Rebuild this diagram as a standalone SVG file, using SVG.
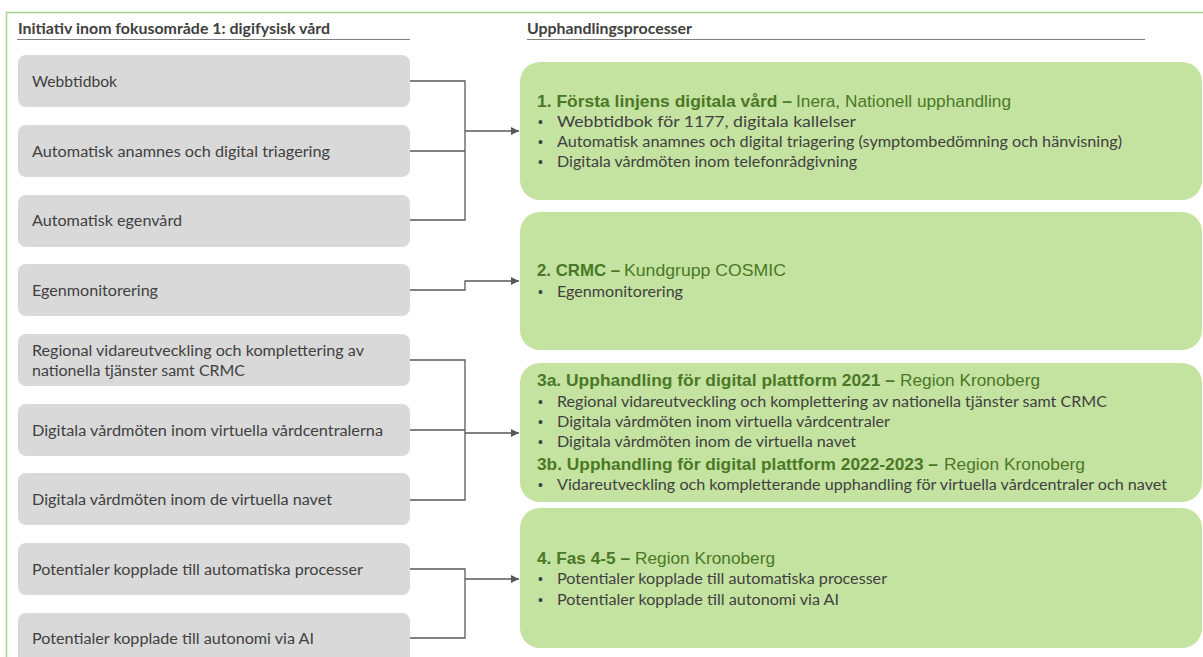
<svg xmlns="http://www.w3.org/2000/svg" width="1203" height="657" viewBox="0 0 1203 657">
<defs>
<style>
.frame{fill:none;stroke:#a9d18e;stroke-width:1.5}
.rule{stroke:#808080;stroke-width:1}
.hdr{font-family:Lato,"Open Sans",sans-serif;font-weight:bold;font-size:14.5px;fill:#404040}
.gbox{fill:#d9d9d9}
.pbox{fill:#c5e3a0}
.lt{font-family:Lato,"Open Sans",sans-serif;font-size:15.5px;fill:#404040}
.tb{font-family:"Liberation Sans",Arial,sans-serif;font-weight:bold;font-size:17px;fill:#4a7826}
.tn{font-family:"Liberation Sans",Arial,sans-serif;font-size:17px;fill:#4a7826}
.bul{font-family:"Liberation Sans",Arial,sans-serif;font-size:14px;fill:#404040}
.con{fill:none;stroke:#595959;stroke-width:1.3}
</style>
<marker id="arr" viewBox="0 0 10 10" refX="10" refY="5" markerWidth="8" markerHeight="8" markerUnits="userSpaceOnUse" orient="auto">
<path d="M0,0 L10,5 L0,10 z" fill="#595959"/>
</marker>
</defs>
<rect width="1203" height="657" fill="#ffffff"/>
<path class="frame" d="M6.5,657 V12.5 H1203"/>

<g id="header-left">
<text class="hdr" x="18" y="34" textLength="312" lengthAdjust="spacingAndGlyphs">Initiativ inom fokusområde 1: digifysisk vård</text>
<line class="rule" x1="17" y1="39.5" x2="410" y2="39.5"/>
</g>
<g id="header-right">
<text class="hdr" x="527" y="34" textLength="165" lengthAdjust="spacingAndGlyphs">Upphandlingsprocesser</text>
<line class="rule" x1="527" y1="39.5" x2="1145" y2="39.5"/>
</g>

<g id="init-webbtidbok"><rect class="gbox" x="18" y="55" width="392" height="52" rx="8"/><text class="lt" x="32" y="86.5" textLength="85" lengthAdjust="spacingAndGlyphs">Webbtidbok</text></g>
<g id="init-anamnes"><rect class="gbox" x="18" y="125" width="392" height="52" rx="8"/><text class="lt" x="32" y="156.5" textLength="298" lengthAdjust="spacingAndGlyphs">Automatisk anamnes och digital triagering</text></g>
<g id="init-egenvard"><rect class="gbox" x="18" y="195" width="392" height="52" rx="8"/><text class="lt" x="32" y="226" textLength="150" lengthAdjust="spacingAndGlyphs">Automatisk egenvård</text></g>
<g id="init-egenmonitorering"><rect class="gbox" x="18" y="264" width="392" height="52" rx="8"/><text class="lt" x="32" y="295.5" textLength="126" lengthAdjust="spacingAndGlyphs">Egenmonitorering</text></g>
<g id="init-regional"><rect class="gbox" x="18" y="334" width="392" height="52" rx="8"/><text class="lt" x="32" y="355.5" textLength="332" lengthAdjust="spacingAndGlyphs">Regional vidareutveckling och komplettering av</text><text class="lt" x="32" y="375.5" textLength="213" lengthAdjust="spacingAndGlyphs">nationella tjänster samt CRMC</text></g>
<g id="init-vardcentralerna"><rect class="gbox" x="18" y="404" width="392" height="52" rx="8"/><text class="lt" x="32" y="435.5" textLength="351" lengthAdjust="spacingAndGlyphs">Digitala vårdmöten inom virtuella vårdcentralerna</text></g>
<g id="init-navet"><rect class="gbox" x="18" y="473" width="392" height="52" rx="8"/><text class="lt" x="32" y="504.5" textLength="300" lengthAdjust="spacingAndGlyphs">Digitala vårdmöten inom de virtuella navet</text></g>
<g id="init-automatiska"><rect class="gbox" x="18" y="543" width="392" height="52" rx="8"/><text class="lt" x="32" y="574.5" textLength="331" lengthAdjust="spacingAndGlyphs">Potentialer kopplade till automatiska processer</text></g>
<g id="init-ai"><rect class="gbox" x="18" y="613" width="392" height="52" rx="8"/><text class="lt" x="32" y="644" textLength="282" lengthAdjust="spacingAndGlyphs">Potentialer kopplade till autonomi via AI</text></g>

<g id="proc-1">
<rect class="pbox" x="520" y="62" width="682" height="138" rx="20"/>
<text class="tb" x="537" y="106.5" textLength="255" lengthAdjust="spacingAndGlyphs">1. Första linjens digitala vård –</text>
<text class="tn" x="796" y="106.5" textLength="215" lengthAdjust="spacingAndGlyphs">Inera, Nationell upphandling</text>
<text class="bul" x="538" y="127">•</text><text class="lt" x="557" y="127" textLength="299" lengthAdjust="spacingAndGlyphs">Webbtidbok för 1177, digitala kallelser</text>
<text class="bul" x="538" y="147">•</text><text class="lt" x="557" y="147" textLength="565" lengthAdjust="spacingAndGlyphs">Automatisk anamnes och digital triagering (symptombedömning och hänvisning)</text>
<text class="bul" x="538" y="167">•</text><text class="lt" x="557" y="167" textLength="300" lengthAdjust="spacingAndGlyphs">Digitala vårdmöten inom telefonrådgivning</text>
</g>

<g id="proc-2">
<rect class="pbox" x="520" y="212" width="682" height="138" rx="20"/>
<text class="tb" x="537" y="276" textLength="83" lengthAdjust="spacingAndGlyphs">2. CRMC –</text>
<text class="tn" x="624" y="276" textLength="162" lengthAdjust="spacingAndGlyphs">Kundgrupp COSMIC</text>
<text class="bul" x="538" y="297">•</text><text class="lt" x="557" y="297" textLength="126" lengthAdjust="spacingAndGlyphs">Egenmonitorering</text>
</g>

<g id="proc-3">
<rect class="pbox" x="520" y="363" width="682" height="139" rx="20"/>
<text class="tb" x="537" y="386" textLength="358" lengthAdjust="spacingAndGlyphs">3a. Upphandling för digital plattform 2021 –</text>
<text class="tn" x="900" y="386" textLength="140" lengthAdjust="spacingAndGlyphs">Region Kronoberg</text>
<text class="bul" x="538" y="407">•</text><text class="lt" x="557" y="407" textLength="550" lengthAdjust="spacingAndGlyphs">Regional vidareutveckling och komplettering av nationella tjänster samt CRMC</text>
<text class="bul" x="538" y="427">•</text><text class="lt" x="557" y="427" textLength="333" lengthAdjust="spacingAndGlyphs">Digitala vårdmöten inom virtuella vårdcentraler</text>
<text class="bul" x="538" y="447">•</text><text class="lt" x="557" y="447" textLength="299" lengthAdjust="spacingAndGlyphs">Digitala vårdmöten inom de virtuella navet</text>
<text class="tb" x="537" y="470" textLength="401" lengthAdjust="spacingAndGlyphs">3b. Upphandling för digital plattform 2022-2023 –</text>
<text class="tn" x="944" y="470" textLength="141" lengthAdjust="spacingAndGlyphs">Region Kronoberg</text>
<text class="bul" x="538" y="490">•</text><text class="lt" x="557" y="490" textLength="610" lengthAdjust="spacingAndGlyphs">Vidareutveckling och kompletterande upphandling för virtuella vårdcentraler och navet</text>
</g>

<g id="proc-4">
<rect class="pbox" x="520" y="508" width="682" height="140" rx="20"/>
<text class="tb" x="537" y="564" textLength="93" lengthAdjust="spacingAndGlyphs">4. Fas 4-5 –</text>
<text class="tn" x="635" y="564" textLength="140" lengthAdjust="spacingAndGlyphs">Region Kronoberg</text>
<text class="bul" x="538" y="584">•</text><text class="lt" x="557" y="584" textLength="330" lengthAdjust="spacingAndGlyphs">Potentialer kopplade till automatiska processer</text>
<text class="bul" x="538" y="605">•</text><text class="lt" x="557" y="605" textLength="282" lengthAdjust="spacingAndGlyphs">Potentialer kopplade till autonomi via AI</text>
</g>

<g id="connectors">
<path class="con" d="M410,81 H465 V220 H410 M410,151 H465"/>
<path class="con" d="M465,131 H519" marker-end="url(#arr)"/>
<path class="con" d="M410,290 H465 V281 H519" marker-end="url(#arr)"/>
<path class="con" d="M410,360 H465 V500 H410 M410,430 H465"/>
<path class="con" d="M465,433 H519" marker-end="url(#arr)"/>
<path class="con" d="M410,569 H465 V638 H410"/>
<path class="con" d="M465,579 H519" marker-end="url(#arr)"/>
</g>
</svg>
